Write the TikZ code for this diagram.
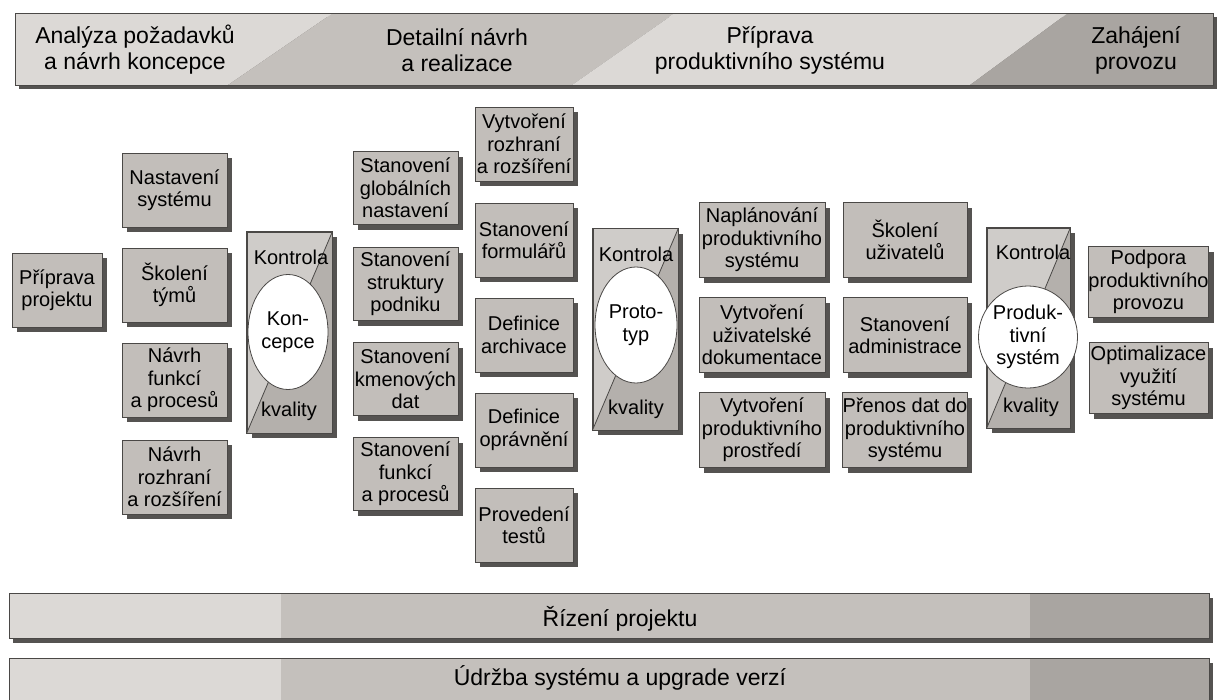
\documentclass[tikz,border=0pt]{standalone}
\usepackage{fontspec}
\setmainfont{Liberation Sans}
\usetikzlibrary{shadows,shapes.geometric}
\definecolor{boxc}{HTML}{C2BEBA}
\definecolor{lightc}{HTML}{DCD9D6}
\definecolor{midc}{HTML}{C4C0BC}
\definecolor{darkc}{HTML}{A9A5A1}
\definecolor{shadc}{HTML}{555351}
\definecolor{linec}{HTML}{4A4846}
\definecolor{ctrllight}{HTML}{CFCCC9}
\definecolor{ctrldark}{HTML}{B4B0AC}
\begin{document}
\begin{tikzpicture}[x=1pt,y=-1pt,
  boxnode/.style={draw=linec, line width=0.8pt, fill=boxc, align=center, inner sep=0pt,
    font=\fontsize{20}{22.5}\selectfont,
    drop shadow={shadow xshift=5pt, shadow yshift=-5pt, fill=shadc, opacity=1}},
  colA/.style={boxnode, minimum width=90pt, minimum height=74pt},
  colB/.style={boxnode, minimum width=105pt, minimum height=74pt},
  colC/.style={boxnode, minimum width=105pt, minimum height=73pt},
  colD/.style={boxnode, minimum width=98pt, minimum height=74pt},
  colE/.style={boxnode, minimum width=126pt, minimum height=75pt},
  colF/.style={boxnode, minimum width=124pt, minimum height=75pt},
  colG/.style={boxnode, minimum width=119pt, minimum height=71pt},
  ctrlbox/.style={draw=linec, line width=0.8pt, fill=ctrllight, inner sep=0pt,
    minimum width=85pt, minimum height=201pt,
    drop shadow={shadow xshift=5pt, shadow yshift=-5pt, fill=shadc, opacity=1}},
  ctrlell/.style={ellipse, draw=linec, line width=0.8pt, fill=white, inner sep=0pt, align=center,
    font=\fontsize{20}{22.5}\selectfont},
  ctrltxt/.style={inner sep=0pt, font=\fontsize{20}{22}\selectfont},
  phasetxt/.style={align=center, inner sep=0pt, font=\fontsize{23}{26}\selectfont},
  bartxt/.style={inner sep=0pt, anchor=base, font=\fontsize{23}{25}\selectfont}
]
\useasboundingbox (0,0) rectangle (1221,699);
\fill[white] (0,0) rectangle (1221,699);

% ---------- top phase banner ----------
\fill[shadc] (19,17) rectangle (1217,89);
\fill[lightc] (15,13) -- (333,13) -- (228,85) -- (15,85) -- cycle;
\fill[midc] (333,13) -- (675,13) -- (572,85) -- (228,85) -- cycle;
\fill[lightc] (675,13) -- (1068,13) -- (970,85) -- (572,85) -- cycle;
\fill[darkc] (1068,13) -- (1213,13) -- (1213,85) -- (970,85) -- cycle;
\draw[linec, line width=0.8pt] (15,13) rectangle (1213,85);
\node[phasetxt] (ph1) at (135,50) {Analýza požadavků\\a návrh koncepce};
\node[phasetxt] (ph2) at (457,50) {Detailní návrh\\a realizace};
\node[phasetxt] (ph3) at (770,50) {Příprava\\produktivního systému};
\node[phasetxt] (ph4) at (1136,50) {Zahájení\\provozu};

% ---------- column 1 ----------
\node[colA] (pp) at (57,290) {Příprava\\projektu};

% ---------- column 2 ----------
\node[colB] (ns) at (174.5,190) {Nastavení\\systému};
\node[colB] (st) at (174.5,285) {Školení\\týmů};
\node[colB] (nfp) at (174.5,380) {Návrh\\funkcí\\a procesů};
\node[colB] (nrr) at (174.5,477) {Návrh\\rozhraní\\a rozšíření};

% ---------- control 1 ----------
\node[ctrlbox] (k1) at (289.5,332.5) {};
\fill[ctrldark] (k1.north east) -- (k1.south east) -- (k1.south west) -- cycle;
\draw[linec, line width=0.8pt] (k1.north east) -- (k1.south west);
\draw[linec, line width=0.8pt] (k1.north west) rectangle (k1.south east);
\node[ctrlell, minimum width=80pt, minimum height=115pt] (e1) at (288,332) {Kon-\\cepce};
\node[ctrltxt] (k1t) at (291,257) {Kontrola};
\node[ctrltxt] (k1b) at (289,411) {kvality};

% ---------- column 3 ----------
\node[colC] (sgn) at (405.5,188) {Stanovení\\globálních\\nastavení};
\node[colC] (ssp) at (405.5,284) {Stanovení\\struktury\\podniku};
\node[colC] (skd) at (405.5,379) {Stanovení\\kmenových\\dat};
\node[colC] (sfp) at (405.5,474) {Stanovení\\funkcí\\a procesů};

% ---------- column 4 ----------
\node[colD] (vrr) at (524,144) {Vytvoření\\rozhraní\\a rozšíření};
\node[colD] (sf) at (524,240) {Stanovení\\formulářů};
\node[colD] (da) at (524,335) {Definice\\archivace};
\node[colD] (do) at (524,430) {Definice\\oprávnění};
\node[colD] (pt) at (524,525) {Provedení\\testů};

% ---------- control 2 ----------
\node[ctrlbox] (k2) at (635.5,329) {};
\fill[ctrldark] (k2.north east) -- (k2.south east) -- (k2.south west) -- cycle;
\draw[linec, line width=0.8pt] (k2.north east) -- (k2.south west);
\draw[linec, line width=0.8pt] (k2.north west) rectangle (k2.south east);
\node[ctrlell, minimum width=82pt, minimum height=116pt] (e2) at (636,325) {Proto-\\typ};
\node[ctrltxt] (k2t) at (636,254) {Kontrola};
\node[ctrltxt] (k2b) at (636,409) {kvality};

% ---------- column 5 ----------
\node[colE] (nps) at (762,240) {Naplánování\\produktivního\\systému};
\node[colE] (vud) at (762,335) {Vytvoření\\uživatelské\\dokumentace};
\node[colE] (vpp) at (762,430) {Vytvoření\\produktivního\\prostředí};

% ---------- column 6 ----------
\node[colF] (su) at (905,240) {Školení\\uživatelů};
\node[colF] (sa) at (905,335) {Stanovení\\administrace};
\node[colF] (pd) at (905,430) {Přenos dat do\\produktivního\\systému};

% ---------- control 3 ----------
\node[ctrlbox, minimum width=83pt, minimum height=200pt] (k3) at (1028.5,328) {};
\fill[ctrldark] (k3.north east) -- (k3.south east) -- (k3.south west) -- cycle;
\draw[linec, line width=0.8pt] (k3.north east) -- (k3.south west);
\draw[linec, line width=0.8pt] (k3.north west) rectangle (k3.south east);
\node[ctrlell, minimum width=80pt, minimum height=102pt] (e3) at (1028,337) {Produk-\\tivní\\systém};
\node[ctrltxt] (k3t) at (1033,252) {Kontrola};
\node[ctrltxt] (k3b) at (1031,407) {kvality};

% ---------- column 7 ----------
\node[colG] (ppp) at (1148.5,282) {Podpora\\produktivního\\provozu};
\node[colG] (ovs) at (1148.5,378) {Optimalizace\\využití\\systému};

% ---------- bottom bars ----------
\fill[shadc] (13,598) rectangle (1213,643);
\fill[lightc] (9,593) rectangle (281,638);
\fill[midc] (281,593) rectangle (1030,638);
\fill[darkc] (1030,593) rectangle (1209,638);
\draw[linec, line width=0.8pt] (9,593) rectangle (1209,638);
\node[bartxt] (rp) at (620,626) {Řízení projektu};

\fill[shadc] (13,663) rectangle (1213,705);
\fill[lightc] (9,658) rectangle (281,703);
\fill[midc] (281,658) rectangle (1030,703);
\fill[darkc] (1030,658) rectangle (1209,703);
\draw[linec, line width=0.8pt] (9,703) -- (9,658) -- (1209,658) -- (1209,703);
\node[bartxt] (us) at (620,685) {Údržba systému a upgrade verzí};
\end{tikzpicture}
\end{document}
